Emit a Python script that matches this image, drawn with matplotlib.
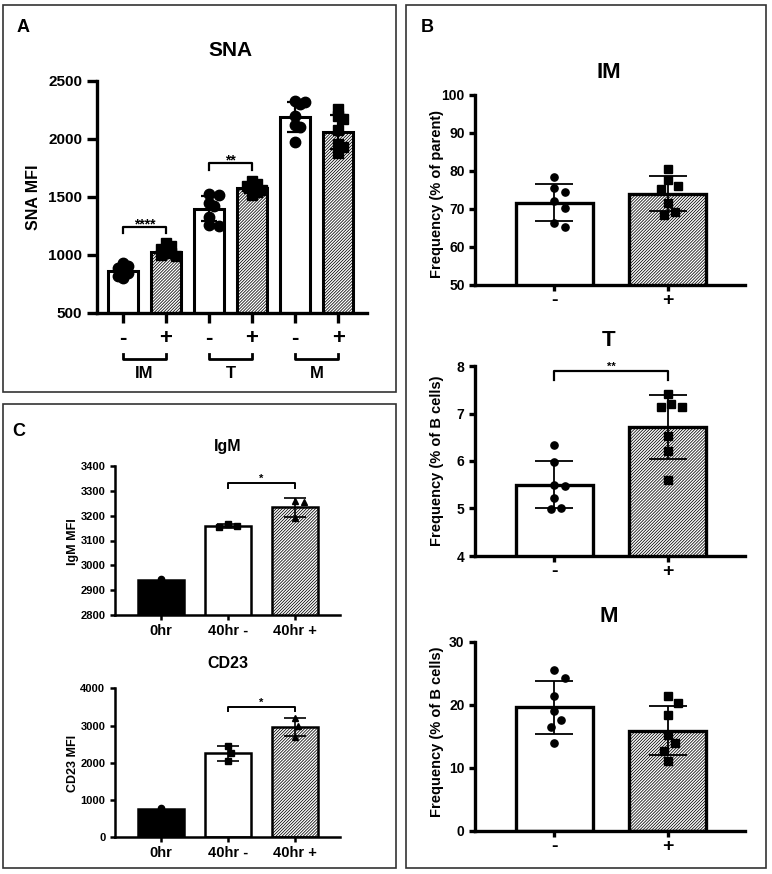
import numpy as np
import matplotlib
matplotlib.use('Agg')
import matplotlib.pyplot as plt
from matplotlib.patches import Rectangle
from matplotlib.transforms import blended_transform_factory

plt.rcParams['font.family'] = ['Liberation Sans', 'DejaVu Sans']
plt.rcParams['font.weight'] = 'bold'
plt.rcParams['axes.labelweight'] = 'bold'
plt.rcParams['hatch.linewidth'] = 0.55

W, H = 772, 874
HATCH = '/' * 11

# ---- panel A : SNA MFI ----
sna_groups = ['IM', 'T', 'M']
sna_ticks = ['-', '+', '-', '+', '-', '+']
sna_mean = [860, 1030, 1400, 1575, 2190, 2060]
sna_sd = [45, 40, 110, 40, 130, 145]
sna_points = [
    [930, 905, 885, 865, 845, 820, 800],
    [1100, 1080, 1055, 1035, 1015, 1000, 990],
    [1530, 1520, 1450, 1420, 1330, 1250, 1260],
    [1640, 1615, 1595, 1575, 1560, 1540, 1520],
    [2330, 2320, 2300, 2200, 2120, 2100, 1970],
    [2260, 2200, 2170, 2080, 1960, 1930, 1880],
]

# ---- panel B : frequencies ----
b_ticks = ['-', '+']
im_mean = [71.7, 74.0]
im_sd = [4.95, 4.6]
im_points = [[78.5, 74.6, 75.6, 72.1, 70.3, 65.2, 66.2],
             [80.5, 77.6, 76.0, 75.3, 71.5, 69.2, 68.4]]
t_mean = [5.5, 6.72]
t_sd = [0.5, 0.67]
t_points = [[6.33, 5.98, 5.48, 5.50, 5.22, 4.98, 5.02],
            [7.42, 7.14, 7.13, 7.20, 6.53, 6.21, 5.59]]
m_mean = [19.6, 15.9]
m_sd = [4.2, 3.9]
m_points = [[25.5, 24.3, 21.4, 19.0, 17.6, 16.5, 13.9],
            [21.4, 20.2, 18.4, 15.2, 13.9, 12.7, 11.0]]

# ---- panel C : IgM / CD23 ----
c_ticks = ['0hr', '40hr -', '40hr +']
igm_mean = [2942, 3158, 3233]
igm_sd = [0, 8, 40]
igm_points = [[2945], [3165, 3155, 3160], [3258, 3255, 3190]]
cd23_mean = [760, 2255, 2955]
cd23_sd = [0, 200, 240]
cd23_points = [[780], [2460, 2255, 2050], [3195, 2990, 2700]]


def px_axes(fig, l, t, r, b):
    return fig.add_axes([l / W, 1 - b / H, (r - l) / W, (b - t) / H])


def ftext(fig, x, y, s, **kw):
    kw.setdefault('ha', 'center')
    kw.setdefault('va', 'center')
    fig.text(x / W, 1 - y / H, s, **kw)


def style(ax, lw, tl, fs):
    for s in ['top', 'right']:
        ax.spines[s].set_visible(False)
    for s in ['left', 'bottom']:
        ax.spines[s].set_linewidth(lw)
    ax.tick_params(width=lw, length=tl, labelsize=fs, direction='out')
    for lab in ax.get_yticklabels():
        lab.set_fontweight('bold')


def swarm(ax, x0, vals, d, factor=1.05):
    # spread points sideways so markers do not overlap (scatter dot plot)
    p0 = ax.transData.transform([[0, 0], [1, 0]])
    ppu = p0[1, 0] - p0[0, 0]
    ys = ax.transData.transform(np.column_stack([np.full(len(vals), x0), vals]))[:, 1]
    order = np.argsort(-np.asarray(vals))
    offs = np.zeros(len(vals))
    placed = []
    for i in order:
        for k in [0, 1, -1, 2, -2, 3, -3, 4, -4]:
            dx = k * 0.5 * d
            if all(np.hypot(dx - px, ys[i] - py) >= d * factor for px, py in placed):
                break
        offs[i] = dx / ppu
        placed.append((dx, ys[i]))
    return offs


def draw_bars(ax, means, sds, points, fills, hatches, markers, ms, width,
              bar_lw, err_lw, cap, d, factor=1.05):
    for i, (mu, sd, pts) in enumerate(zip(means, sds, points)):
        ax.bar(i, mu, width, color=fills[i], edgecolor='black', hatch=hatches[i],
               linewidth=bar_lw, zorder=2)
        if sd > 0:
            ax.errorbar(i, mu, yerr=sd, fmt='none', ecolor='black', elinewidth=err_lw,
                        capsize=cap, capthick=err_lw, zorder=3)
        off = swarm(ax, i, pts, d, factor)
        ax.plot(i + off, pts, ls='none', marker=markers[i], ms=ms, color='black',
                zorder=4, clip_on=False)


def sig(ax, x1, x2, y, h, s, lw, fs, off):
    ax.plot([x1, x1, x2, x2], [y - h, y, y, y - h], color='black', lw=lw,
            clip_on=False, zorder=5)
    ax.annotate(s, xy=((x1 + x2) / 2, y), xytext=(0, off), textcoords='offset points',
                ha='center', va='baseline', fontsize=fs, fontweight='bold',
                annotation_clip=False)


fig = plt.figure(figsize=(W / 100, H / 100), dpi=100)

# panel frames
for (x0, y0, x1, y1) in [(3, 5, 396, 392), (406, 5, 766, 868), (3, 404, 396, 868)]:
    fig.patches.append(Rectangle((x0 / W, 1 - y1 / H), (x1 - x0) / W, (y1 - y0) / H,
                                 transform=fig.transFigure, fill=False,
                                 edgecolor='#333333', linewidth=1.2))

# ---------------- A ----------------
axA = px_axes(fig, 97, 81, 367, 313)
axA.set_xlim(-0.6, 5.67)
axA.set_ylim(500, 2500)
axA.set_yticks([500, 1000, 1500, 2000, 2500])
draw_bars(axA, sna_mean, sna_sd, sna_points, ['white'] * 6, ['', HATCH] * 3,
          ['o', 's'] * 3, 7.5, 0.7, 2.2, 1.6, 6, 10, factor=0.55)
style(axA, 2.4, 7, 11)
axA.set_xticks(range(6))
axA.set_xticklabels(sna_ticks, fontsize=16, fontweight='bold')
axA.tick_params(axis='x', pad=4)
sig(axA, 0, 1, 1245, 55, '****', 1.6, 10, -1)
sig(axA, 2, 3, 1795, 60, '**', 1.6, 10, -1)
trA = blended_transform_factory(axA.transData, axA.transAxes)
for g, name in enumerate(sna_groups):
    a, b = 2 * g, 2 * g + 1
    axA.plot([a, a, b, b], [-0.177, -0.198, -0.198, -0.177], color='black', lw=2,
             transform=trA, clip_on=False)
    axA.text((a + b) / 2, -0.262, name, transform=trA, ha='center', va='center',
             fontsize=12, fontweight='bold')
ftext(fig, 23, 28, 'A', fontsize=13, fontweight='bold')
ftext(fig, 230, 50, 'SNA', fontsize=15, fontweight='bold')
ftext(fig, 33, 197, 'SNA MFI', fontsize=11.5, fontweight='bold', rotation=90)

# ---------------- B ----------------
b_specs = [
    (95, 285, (50, 100), range(50, 101, 10), im_mean, im_sd, im_points, 'IM', 72,
     'Frequency (% of parent)', 194),
    (366, 556, (4, 8), range(4, 9), t_mean, t_sd, t_points, 'T', 340,
     'Frequency (% of B cells)', 461),
    (641.7, 830.7, (0, 30), range(0, 31, 10), m_mean, m_sd, m_points, 'M', 616,
     'Frequency (% of B cells)', 732),
]
axB = []
for top, bot, ylim, yt, mu, sd, pts, title, ty, ylab, ly in b_specs:
    ax = px_axes(fig, 475, top, 745, bot)
    ax.set_xlim(-0.7, 1.68)
    ax.set_ylim(*ylim)
    ax.set_yticks(list(yt))
    draw_bars(ax, mu, sd, pts, ['white', 'white'], ['', HATCH], ['o', 's'], 5.2,
              0.68, 2.4, 1.3, 14, 7, factor=1.5)
    style(ax, 2.4, 4, 10)
    ax.set_xticks([0, 1])
    ax.set_xticklabels(b_ticks, fontsize=14, fontweight='bold')
    ax.tick_params(axis='x', pad=1)
    ftext(fig, 609, ty, title, fontsize=16, fontweight='bold')
    ftext(fig, 437, ly, ylab, fontsize=10.5, fontweight='bold', rotation=90)
    axB.append(ax)
sig(axB[1], 0, 1, 7.9, 0.2, '**', 1.6, 8, 1)
ftext(fig, 427, 27, 'B', fontsize=13, fontweight='bold')

# ---------------- C ----------------
c_specs = [
    (466, 615, (2800, 3400), range(2800, 3401, 100), igm_mean, igm_sd, igm_points,
     'IgM', 447, 'IgM MFI', 542, (3330, 20)),
    (688.3, 837.3, (0, 4000), range(0, 4001, 1000), cd23_mean, cd23_sd, cd23_points,
     'CD23', 663, 'CD23 MFI', 763, (3490, 100)),
]
for top, bot, ylim, yt, mu, sd, pts, title, ty, ylab, ly, (sy, sh) in c_specs:
    ax = px_axes(fig, 115, top, 340, bot)
    ax.set_xlim(-0.69, 2.67)
    ax.set_ylim(*ylim)
    ax.set_yticks(list(yt))
    draw_bars(ax, mu, sd, pts, ['black', 'white', 'white'], ['', '', HATCH],
              ['o', 's', '^'], 4.5, 0.69, 1.8, 1.2, 8, 6, factor=1.3)
    style(ax, 1.8, 3.5, 8)
    ax.set_xticks([0, 1, 2])
    ax.set_xticklabels(c_ticks, fontsize=10.5, fontweight='bold')
    ax.tick_params(axis='x', pad=3)
    sig(ax, 1, 2, sy, sh, '*', 1.4, 8, 1)
    ftext(fig, 228, ty, title, fontsize=11.5, fontweight='bold')
    ftext(fig, 73, ly, ylab, fontsize=9, fontweight='bold', rotation=90)
ftext(fig, 19, 432, 'C', fontsize=13, fontweight='bold')

fig.savefig('out.png', dpi=100)
